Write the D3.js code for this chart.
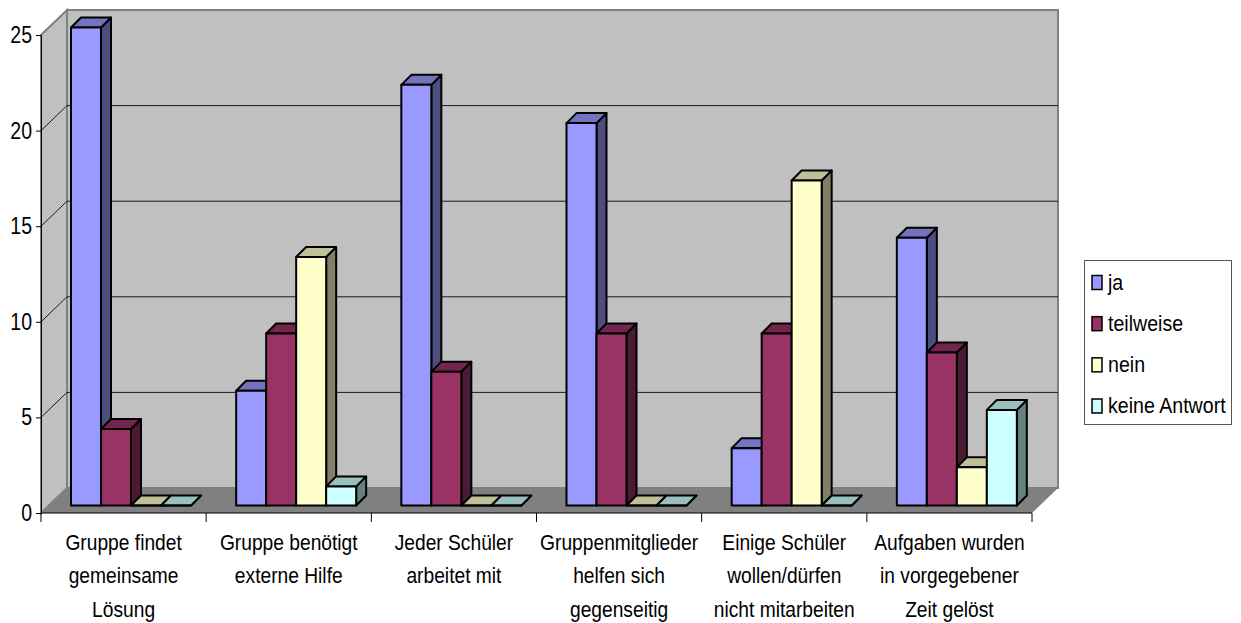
<!DOCTYPE html>
<html>
<head>
<meta charset="utf-8">
<script src="https://cdn.jsdelivr.net/npm/d3@7"></script>
<style>
  html, body { margin: 0; padding: 0; background: #fff; }
  svg { display: block; }
  text { font-family: "Liberation Sans", Arial, sans-serif; fill: #000; }
</style>
</head>
<body>
<div id="chart"></div>
<script>
const categories = [
  ["Gruppe findet", "gemeinsame", "Lösung"],
  ["Gruppe benötigt", "externe Hilfe"],
  ["Jeder Schüler", "arbeitet mit"],
  ["Gruppenmitglieder", "helfen sich", "gegenseitig"],
  ["Einige Schüler", "wollen/dürfen", "nicht mitarbeiten"],
  ["Aufgaben wurden", "in vorgegebener", "Zeit gelöst"]
];
const seriesNames = ["ja", "teilweise", "nein", "keine Antwort"];
const seriesColors = ["#9999ff", "#993366", "#ffffcc", "#ccffff"];
const ja = [25, 6, 22, 20, 3, 14];
const teilweise = [4, 9, 7, 9, 9, 8];
const nein = [0, 13, 0, 0, 17, 2];
const keineAntwort = [0, 1, 0, 0, 0, 5];
const seriesValues = [ja, teilweise, nein, keineAntwort];
const yTicks = [0, 5, 10, 15, 20, 25];

const WIDTH = 1241, HEIGHT = 623;
const LEFT = 41, RIGHT = 1032, BOTTOM = 513, TOP = 35;
const WALL_DX = 26, WALL_DY = 25;     // depth of the box
const BAR_LIFT = 7.5, BAR_DEPTH = 10; // bars stand inside the floor

const svg = d3.select("#chart").append("svg")
  .attr("width", WIDTH).attr("height", HEIGHT);

const x = d3.scaleBand().domain(d3.range(categories.length)).range([LEFT, RIGHT]);
const inner = d3.scaleBand().domain(d3.range(seriesNames.length)).range([30, 150]);
const y = d3.scaleLinear().domain([0, 25]).range([BOTTOM, TOP]);

const poly = pts => pts.map(p => p.join(",")).join(" ");

// the original text is stretched vertically, so draw it with a y scale
function stretchedText(parent, px, py, str, size, sy) {
  return parent.append("text")
    .attr("transform", `translate(${px},${py}) scale(1,${sy})`)
    .attr("font-size", size)
    .text(str);
}

// side wall, back wall, floor
const box = svg.append("g").attr("stroke", "#808080").attr("stroke-width", 2);
box.append("polygon").attr("fill", "#c0c0c0")
  .attr("points", poly([[LEFT, BOTTOM], [LEFT + WALL_DX, BOTTOM - WALL_DY], [LEFT + WALL_DX, TOP - WALL_DY], [LEFT, TOP]]));
box.append("rect").attr("fill", "#c0c0c0")
  .attr("x", LEFT + WALL_DX).attr("y", TOP - WALL_DY)
  .attr("width", RIGHT - LEFT).attr("height", BOTTOM - TOP);
box.append("polygon").attr("fill", "#808080").attr("stroke", "none")
  .attr("points", poly([[LEFT, BOTTOM], [LEFT + WALL_DX, BOTTOM - WALL_DY], [RIGHT + WALL_DX, BOTTOM - WALL_DY], [RIGHT, BOTTOM]]));

// gridlines
const grid = svg.append("g").attr("fill", "none").attr("stroke", "#1a1a1a").attr("stroke-width", 1);
yTicks.filter(t => t > 0 && t < 25).forEach(t => {
  grid.append("polyline")
    .attr("points", poly([[LEFT, y(t)], [LEFT + WALL_DX, y(t) - WALL_DY], [RIGHT + WALL_DX, y(t) - WALL_DY]]));
});

// axes
const axisLeft = d3.axisLeft(y).tickValues(yTicks).tickSize(5).tickFormat("");
const gy = svg.append("g").attr("transform", `translate(${LEFT},0)`).call(axisLeft);
gy.selectAll("line, path").attr("stroke", "#000");
const yLabels = svg.append("g").attr("text-anchor", "end");
yTicks.forEach(t => stretchedText(yLabels, 32, y(t) + 8, t, 19.5, 1.18));

const gx = svg.append("g");
gx.append("line").attr("x1", LEFT).attr("x2", RIGHT).attr("y1", BOTTOM).attr("y2", BOTTOM).attr("stroke", "#000");
d3.range(categories.length + 1).forEach(i => {
  const px = i < categories.length ? x(i) : RIGHT;
  gx.append("line").attr("x1", px).attr("x2", px).attr("y1", BOTTOM).attr("y2", BOTTOM + 9).attr("stroke", "#000");
});

// bars, left to right so each front face covers the side of the previous one
const bars = svg.append("g").attr("stroke", "#000").attr("stroke-width", 2).attr("stroke-linejoin", "round");
const base = BOTTOM - BAR_LIFT;
categories.forEach((cat, c) => {
  seriesValues.forEach((values, s) => {
    const v = values[c];
    const x0 = x(c) + inner(s);
    const x1 = x0 + inner.bandwidth();
    const yTop = y(v) - BAR_LIFT;
    const color = d3.color(seriesColors[s]);
    const shade = k => d3.rgb(color.r * k, color.g * k, color.b * k).formatHex();
    bars.append("polygon").attr("fill", shade(0.5))
      .attr("points", poly([[x1, base], [x1 + BAR_DEPTH, base - BAR_DEPTH], [x1 + BAR_DEPTH, yTop - BAR_DEPTH], [x1, yTop]]));
    bars.append("polygon").attr("fill", shade(0.75))
      .attr("points", poly([[x0, yTop], [x0 + BAR_DEPTH, yTop - BAR_DEPTH], [x1 + BAR_DEPTH, yTop - BAR_DEPTH], [x1, yTop]]));
    if (v > 0) {
      bars.append("rect").attr("fill", seriesColors[s])
        .attr("x", x0).attr("y", yTop).attr("width", x1 - x0).attr("height", base - yTop);
    } else {
      bars.append("line").attr("x1", x0).attr("x2", x1).attr("y1", base).attr("y2", base);
    }
  });
});

// category labels
const labels = svg.append("g").attr("text-anchor", "middle");
categories.forEach((lines, c) => {
  lines.forEach((line, i) => {
    stretchedText(labels, x(c) + x.bandwidth() / 2, 550 + i * 33.3, line, 19.2, 1.15);
  });
});

// legend
const legend = svg.append("g");
legend.append("rect").attr("x", 1084.5).attr("y", 260.5).attr("width", 147).attr("height", 164)
  .attr("fill", "#fff").attr("stroke", "#555").attr("stroke-width", 1);
const rowY = d3.scalePoint().domain(d3.range(seriesNames.length)).range([282.5, 406]);
seriesNames.forEach((name, s) => {
  legend.append("rect").attr("x", 1092).attr("y", rowY(s) - 7).attr("width", 10).attr("height", 14)
    .attr("fill", seriesColors[s]).attr("stroke", "#000").attr("stroke-width", 1.5);
  stretchedText(legend, 1108, rowY(s) + 7, name, 19.6, 1.12);
});
</script>
</body>
</html>
